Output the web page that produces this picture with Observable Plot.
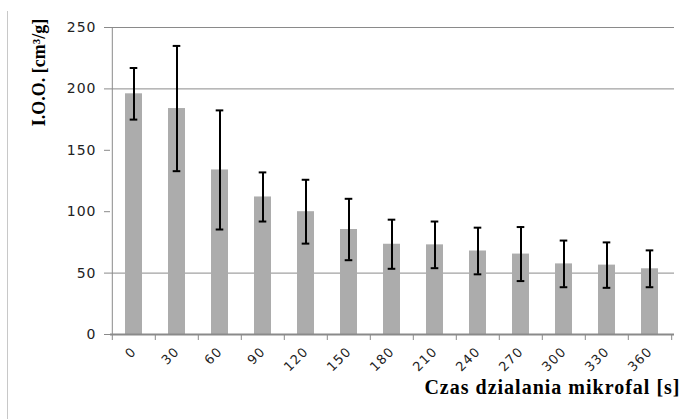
<!DOCTYPE html>
<html>
<head>
<meta charset="utf-8">
<script src="https://cdn.jsdelivr.net/npm/d3@7"></script>
<script src="https://cdn.jsdelivr.net/npm/@observablehq/plot@0.6"></script>
<style>
  body { margin: 0; background: #fff; }
  #chart { position: relative; width: 686px; height: 419px; overflow: hidden; }
  #frame { position: absolute; left: 7px; top: 11px; bottom: 0; border-left: 1px solid #c8c8c8; }
  #chart svg { position: absolute; left: 0; top: 0; }
  #chart svg [aria-label$="tick label"] text { letter-spacing: 1px; }
</style>
</head>
<body>
<div id="chart"><div id="frame"></div></div>
<script>
// Data
const times = ["0", "30", "60", "90", "120", "150", "180", "210", "240", "270", "300", "330", "360"];
const means = [196, 184, 134, 112, 100, 85.5, 73.5, 73, 68, 65.5, 57.5, 56.5, 53.5];
const errors = [21, 51, 48.5, 20, 26, 25, 20, 19, 19, 22, 19, 18.5, 15];
const yTicks = [0, 50, 100, 150, 200, 250];
const gridTicks = [50, 200, 250];
const yLabel = "I.O.O. [cm³/g]";
const xLabel = "Czas dzialania mikrofal [s]";

const data = times.map((t, i) => ({ time: t, mean: means[i], err: errors[i] }));

const W = 686, H = 419, ML = 110, MR = 12, MT = 27, MB = 85;
const halfStep = (W - ML - MR) / times.length / 2;

const chart = Plot.plot({
  width: W,
  height: H,
  marginLeft: ML,
  marginRight: MR,
  marginTop: MT,
  marginBottom: MB,
  style: { fontFamily: "DejaVu Sans", fontSize: "13px", background: "transparent", color: "#222" },
  x: { type: "band", domain: times, paddingInner: 0.6, paddingOuter: 0.3, label: null },
  y: { domain: [0, 250], label: null },
  marks: [
    Plot.ruleY(gridTicks, { stroke: "#8a8a8a", strokeWidth: 1 }),
    Plot.barY(data, { x: "time", y: "mean", fill: "#acacac" }),
    Plot.ruleX(data, { x: "time", y1: d => d.mean - d.err, y2: d => d.mean + d.err, stroke: "#000", strokeWidth: 2 }),
    Plot.tickY(data, { x: "time", y: d => d.mean + d.err, stroke: "#000", strokeWidth: 2, insetLeft: 4.7, insetRight: 4.7 }),
    Plot.tickY(data, { x: "time", y: d => d.mean - d.err, stroke: "#000", strokeWidth: 2, insetLeft: 4.7, insetRight: 4.7 }),
    // y axis line
    Plot.ruleX([times[0]], { x: d => d, y1: 0, y2: 250, dx: -halfStep, stroke: "#8a8a8a", strokeWidth: 1 }),
    // x axis line
    Plot.ruleY([0], { stroke: "#8a8a8a", strokeWidth: 2 }),
    Plot.axisY({ ticks: yTicks, tickSize: 6, tickPadding: 8, stroke: "#8a8a8a", fill: "#222", fontSize: 14, label: null }),
    // x tick marks at category boundaries
    Plot.axisX({ tickSize: 6, tickFormat: () => "", dx: -halfStep, stroke: "#8a8a8a", label: null }),
    Plot.axisX({ ticks: [times[times.length - 1]], tickSize: 6, tickFormat: () => "", dx: halfStep, stroke: "#8a8a8a", label: null }),
    // x tick labels
    Plot.axisX({ tickSize: 0, tickPadding: 15, tickRotate: -45, fill: "#222", fontSize: 13, label: null }),
    Plot.text([yLabel], { frameAnchor: "top-left", dx: -71, dy: 45, rotate: -90, textAnchor: "middle", lineAnchor: "middle", fontSize: 18, fontWeight: "bold", fontFamily: "Liberation Serif", fill: "#000" }),
    Plot.text([xLabel], { frameAnchor: "bottom-right", dx: 6, dy: 53, textAnchor: "end", lineAnchor: "middle", fontSize: 20, fontWeight: "bold", fontFamily: "Liberation Serif", fill: "#000" })
  ]
});
chart.querySelectorAll("text").forEach(t => {
  if (t.textContent === xLabel) t.style.letterSpacing = "1px";
});
document.getElementById("chart").appendChild(chart);
</script>
</body>
</html>
